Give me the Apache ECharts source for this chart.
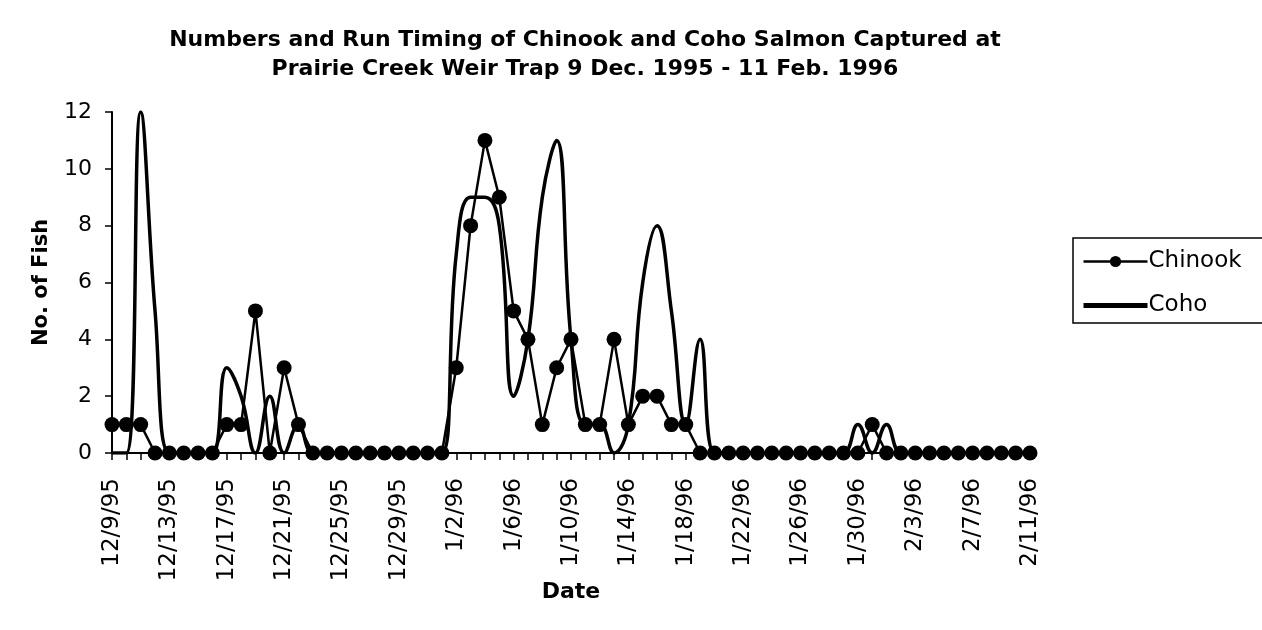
<!DOCTYPE html>
<html>
<head>
<meta charset="utf-8">
<script src="https://cdn.jsdelivr.net/npm/echarts@6/dist/echarts.min.js"></script>
<style>
  html, body { margin: 0; padding: 0; background: #fff; }
  #main { width: 1262px; height: 630px; }
</style>
</head>
<body>
<div id="main"></div>
<script>
// dates, one per day
const dates = [
  '12/9/95', '12/10/95', '12/11/95', '12/12/95', '12/13/95', '12/14/95', '12/15/95', '12/16/95',
  '12/17/95', '12/18/95', '12/19/95', '12/20/95', '12/21/95', '12/22/95', '12/23/95', '12/24/95',
  '12/25/95', '12/26/95', '12/27/95', '12/28/95', '12/29/95', '12/30/95', '12/31/95', '1/1/96',
  '1/2/96', '1/3/96', '1/4/96', '1/5/96', '1/6/96', '1/7/96', '1/8/96', '1/9/96',
  '1/10/96', '1/11/96', '1/12/96', '1/13/96', '1/14/96', '1/15/96', '1/16/96', '1/17/96',
  '1/18/96', '1/19/96', '1/20/96', '1/21/96', '1/22/96', '1/23/96', '1/24/96', '1/25/96',
  '1/26/96', '1/27/96', '1/28/96', '1/29/96', '1/30/96', '1/31/96', '2/1/96', '2/2/96',
  '2/3/96', '2/4/96', '2/5/96', '2/6/96', '2/7/96', '2/8/96', '2/9/96', '2/10/96', '2/11/96'
];

const chinook = [
  1, 1, 1, 0, 0, 0, 0, 0,
  1, 1, 5, 0, 3, 1, 0, 0,
  0, 0, 0, 0, 0, 0, 0, 0,
  3, 8, 11, 9, 5, 4, 1, 3,
  4, 1, 1, 4, 1, 2, 2, 1,
  1, 0, 0, 0, 0, 0, 0, 0,
  0, 0, 0, 0, 0, 1, 0, 0,
  0, 0, 0, 0, 0, 0, 0, 0, 0
];

const coho = [
  0, 0, 12, 5, 0, 0, 0, 0,
  3, 2, 0, 2, 0, 1, 0, 0,
  0, 0, 0, 0, 0, 0, 0, 0,
  7, 9, 9, 8, 2, 4, 9, 11,
  4, 1, 1, 0, 1, 6, 8, 5,
  1, 4, 0, 0, 0, 0, 0, 0,
  0, 0, 0, 0, 1, 0, 1, 0,
  0, 0, 0, 0, 0, 0, 0, 0, 0
];

const font = '"DejaVu Sans", Verdana, sans-serif';
const chart = echarts.init(document.getElementById('main'));

chart.setOption({
  backgroundColor: '#fff',
  animation: false,
  textStyle: { fontFamily: font, color: '#000' },
  title: {
    text: 'Numbers and Run Timing of Chinook and Coho Salmon Captured at\nPrairie Creek Weir Trap 9 Dec. 1995 - 11 Feb. 1996',
    left: 580,
    textAlign: 'center',
    top: 21,
    textStyle: { fontFamily: font, fontSize: 22, fontWeight: 'bold', color: '#000', lineHeight: 29 }
  },
  legend: {
    orient: 'vertical',
    left: 1073,
    top: 238,
    width: 200,
    padding: [12, 60, 6, 8],
    itemGap: 21,
    itemWidth: 64,
    itemHeight: 14,
    borderColor: '#000',
    borderWidth: 1.5,
    textStyle: { fontFamily: font, fontSize: 23, color: '#000', padding: [0, 0, 0, -4] },
    data: [
      { name: 'Chinook', itemStyle: { color: '#000' }, lineStyle: { width: 2.5 } },
      { name: 'Coho', itemStyle: { opacity: 0 }, lineStyle: { width: 5, color: '#000' } }
    ]
  },
  grid: { left: 112, right: 232, top: 112, bottom: 177 },
  xAxis: {
    type: 'category',
    data: dates,
    boundaryGap: false,
    name: 'Date',
    nameLocation: 'middle',
    nameGap: 128,
    nameMoveOverlap: false,
    nameTextStyle: { fontFamily: font, fontSize: 22, fontWeight: 'bold', color: '#000' },
    axisLine: { lineStyle: { color: '#000', width: 2 } },
    axisTick: { interval: 0, length: 7, lineStyle: { color: '#000', width: 1.5 } },
    axisLabel: {
      interval: 3,
      rotate: 90,
      margin: 25,
      fontFamily: font,
      fontSize: 23,
      color: '#000'
    },
    splitLine: { show: false }
  },
  yAxis: {
    type: 'value',
    min: 0,
    max: 12,
    interval: 2,
    name: 'No. of Fish',
    nameLocation: 'middle',
    nameGap: 60,
    nameTextStyle: { fontFamily: font, fontSize: 21, fontWeight: 'bold', color: '#000' },
    axisLine: { show: true, lineStyle: { color: '#000', width: 2 } },
    axisTick: { show: true, length: 7, lineStyle: { color: '#000', width: 1.5 } },
    axisLabel: { margin: 20, fontFamily: font, fontSize: 22, color: '#000' },
    splitLine: { show: false }
  },
  series: [
    {
      name: 'Coho',
      type: 'line',
      data: coho,
      smooth: 0.45,
      showSymbol: false,
      lineStyle: { color: '#000', width: 3.5 },
      itemStyle: { color: '#000' },
      z: 2
    },
    {
      name: 'Chinook',
      type: 'line',
      data: chinook,
      symbol: 'circle',
      symbolSize: 15,
      showAllSymbol: true,
      lineStyle: { color: '#000', width: 2.5 },
      itemStyle: { color: '#000' },
      z: 3
    }
  ]
});
</script>
</body>
</html>
